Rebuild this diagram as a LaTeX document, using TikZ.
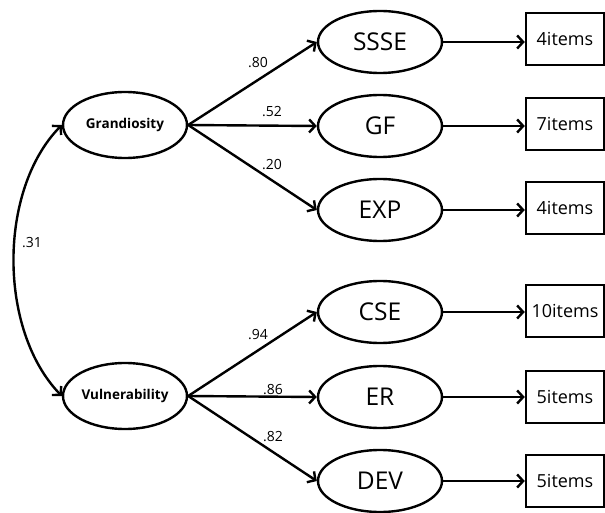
\documentclass[tikz,border=0pt]{standalone}
\usepackage{fontspec}
\setmainfont{Open Sans}
\usetikzlibrary{arrows.meta,shapes.geometric}
\tikzset{
  lat/.style={ellipse,draw,line width=2.4pt,minimum width=124pt,minimum height=62pt,inner sep=0pt,font=\fontsize{24.5}{26}\selectfont},
  fac/.style={ellipse,draw,line width=2.4pt,minimum width=124pt,minimum height=66pt,inner sep=0pt,font=\bfseries\fontsize{13.5}{15}\selectfont},
  itembox/.style={rectangle,draw,line width=2.4pt,minimum width=78pt,minimum height=52pt,inner sep=0pt,font=\fontsize{18}{20}\selectfont},
  arr/.style={line width=2.4pt,-{Straight Barb[length=6pt,width=13pt,line width=2.4pt]}},
  coef/.style={font=\fontsize{14}{16}\selectfont,inner sep=0pt}
}
\begin{document}
\begin{tikzpicture}[x=1pt,y=-1pt]
\useasboundingbox (0,0) rectangle (605,513);
\node[fac] (G) at (125,125) {Grandiosity};
\node[fac] (V) at (125,396) {Vulnerability};
\node[lat] (S1) at (380,42) {SSSE};
\node[lat] (S2) at (380,126) {GF};
\node[lat] (S3) at (380,210) {EXP};
\node[lat] (S4) at (380,312) {CSE};
\node[lat] (S5) at (380,397) {ER};
\node[lat] (S6) at (380,481) {DEV};
\node[itembox] (B1) at (565,39) {4items};
\node[itembox] (B2) at (565,124) {7items};
\node[itembox] (B3) at (565,208) {4items};
\node[itembox] (B4) at (565,311) {10items};
\node[itembox] (B5) at (565,397) {5items};
\node[itembox] (B6) at (565,481) {5items};
\foreach \i in {1,...,6} {\draw[arr] (S\i.east) -- (B\i.west|-S\i.east);}
\draw[arr] (G.east) -- (S1.west);
\draw[arr] (G.east) -- (S2.west);
\draw[arr] (G.east) -- (S3.west);
\draw[arr] (V.east) -- (S4.west);
\draw[arr] (V.east) -- (S5.west);
\draw[arr] (V.east) -- (S6.west);
\draw[line width=2.4pt,{Straight Barb[length=6pt,width=13pt,line width=2.4pt]}-{Straight Barb[length=6pt,width=13pt,line width=2.4pt]}] (V.west) .. controls (-2,330) and (-2,190) .. (G.west);
\node[coef] (c0) at (32,243) {.31};
\node[coef] (c1) at (258,63) {.80};
\node[coef] (c2) at (272,112) {.52};
\node[coef] (c3) at (272,165) {.20};
\node[coef] (c4) at (258,335) {.94};
\node[coef] (c5) at (273,390) {.86};
\node[coef] (c6) at (273,437) {.82};
\end{tikzpicture}
\end{document}
